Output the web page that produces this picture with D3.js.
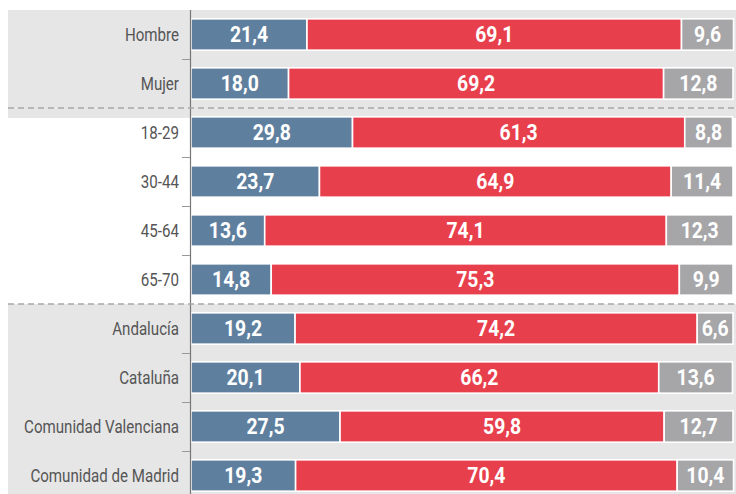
<!DOCTYPE html>
<html>
<head>
<meta charset="utf-8">
<script src="https://cdn.jsdelivr.net/npm/d3@7"></script>
<style>
  body { margin: 0; background: #fff; }
  svg { display: block; }
</style>
</head>
<body>
<svg id="chart"></svg>
<script>
var categories = ["Hombre", "Mujer", "18-29", "30-44", "45-64", "65-70", "Andalucía", "Cataluña", "Comunidad Valenciana", "Comunidad de Madrid"]
var groups = [0, 0, 1, 1, 1, 1, 2, 2, 2, 2]
var serieA = [21.4, 18.0, 29.8, 23.7, 13.6, 14.8, 19.2, 20.1, 27.5, 19.3]
var serieB = [69.1, 69.2, 61.3, 64.9, 74.1, 75.3, 74.2, 66.2, 59.8, 70.4]
var serieC = [9.6, 12.8, 8.8, 11.4, 12.3, 9.9, 6.6, 13.6, 12.7, 10.4]
var colors = ["#5f7f9f", "#e83f4d", "#a6a6a9"]

var width = 736, height = 494
var font = "Roboto, 'Noto Sans', sans-serif"
var svg = d3.select("#chart").attr("width", width).attr("height", height)

var y = d3.scaleBand()
  .domain(categories)
  .range([10, 500])
  .paddingInner(0.36)
  .paddingOuter(0.18)
var x = d3.scaleLinear().domain([0, 100]).range([191, 733])
var step = y.step()
var fmt = function(v) { return d3.format(".1f")(v).replace(".", ",") }

// fondos grises para los grupos 1 y 3
var bgs = [[0, 2], [6, 10]]
bgs.forEach(function(b) {
  svg.append("rect")
    .attr("x", 8)
    .attr("y", 10 + b[0] * step)
    .attr("width", width - 8)
    .attr("height", (b[1] - b[0]) * step + 10)
    .attr("fill", "#e6e6e7")
})

// segmentos
var rows = categories.map(function(c, i) {
  var vals = [serieA[i], serieB[i], serieC[i]]
  var acc = 0
  return vals.map(function(v, k) {
    var s = { cat: c, k: k, v: v, x0: acc, x1: acc + v }
    acc += v
    return s
  })
})

var g = svg.append("g")
rows.forEach(function(r) {
  g.selectAll(null)
    .data(r)
    .enter()
    .append("rect")
    .attr("x", function(d) { return x(d.x0) })
    .attr("y", function(d) { return y(d.cat) })
    .attr("width", function(d) { return x(d.x1) - x(d.x0) })
    .attr("height", y.bandwidth())
    .attr("fill", function(d) { return colors[d.k] })
    .attr("stroke", "#fff")
    .attr("stroke-width", 1.6)
  g.selectAll(null)
    .data(r)
    .enter()
    .append("text")
    .attr("transform", function(d) {
      return "translate(" + (x(d.x0) + x(d.x1)) / 2 + "," + (y(d.cat) + y.bandwidth() / 2) + ") scale(0.88,1)"
    })
    .attr("dy", "0.36em")
    .attr("text-anchor", "middle")
    .attr("fill", "#fff")
    .attr("font-family", font)
    .attr("font-weight", "bold")
    .attr("font-size", 22)
    .text(function(d) { return fmt(d.v) })
})

// eje vertical con marcas entre categorías
var yAxis = svg.append("g")
yAxis.append("line")
  .attr("x1", 190.5).attr("x2", 190.5)
  .attr("y1", 10).attr("y2", height)
  .attr("stroke", "#777").attr("stroke-width", 1.2)
for (var i = 1; i < categories.length; i++) {
  if (groups[i] !== groups[i - 1]) continue
  var ty = Math.round(10 + i * step) + 0.5
  yAxis.append("line")
    .attr("x1", 182).attr("x2", 190)
    .attr("y1", ty).attr("y2", ty)
    .attr("stroke", "#999").attr("stroke-width", 1)
}
yAxis.selectAll("text")
  .data(categories)
  .enter()
  .append("text")
  .attr("transform", function(d) { return "translate(179," + (y(d) + y.bandwidth() / 2) + ") scale(0.84,1)" })
  .attr("dy", "0.36em")
  .attr("text-anchor", "end")
  .attr("fill", "#555")
  .attr("font-family", font)
  .attr("font-size", 18)
  .text(function(d) { return d })

// separadores discontinuos
for (var j = 1; j < categories.length; j++) {
  if (groups[j] === groups[j - 1]) continue
  var sy = 10 + j * step
  svg.append("line")
    .attr("x1", 8).attr("x2", width)
    .attr("y1", sy).attr("y2", sy)
    .attr("stroke", "#a8a8a8")
    .attr("stroke-width", 1.5)
    .attr("stroke-dasharray", "6,4")
}
</script>
</body>
</html>
